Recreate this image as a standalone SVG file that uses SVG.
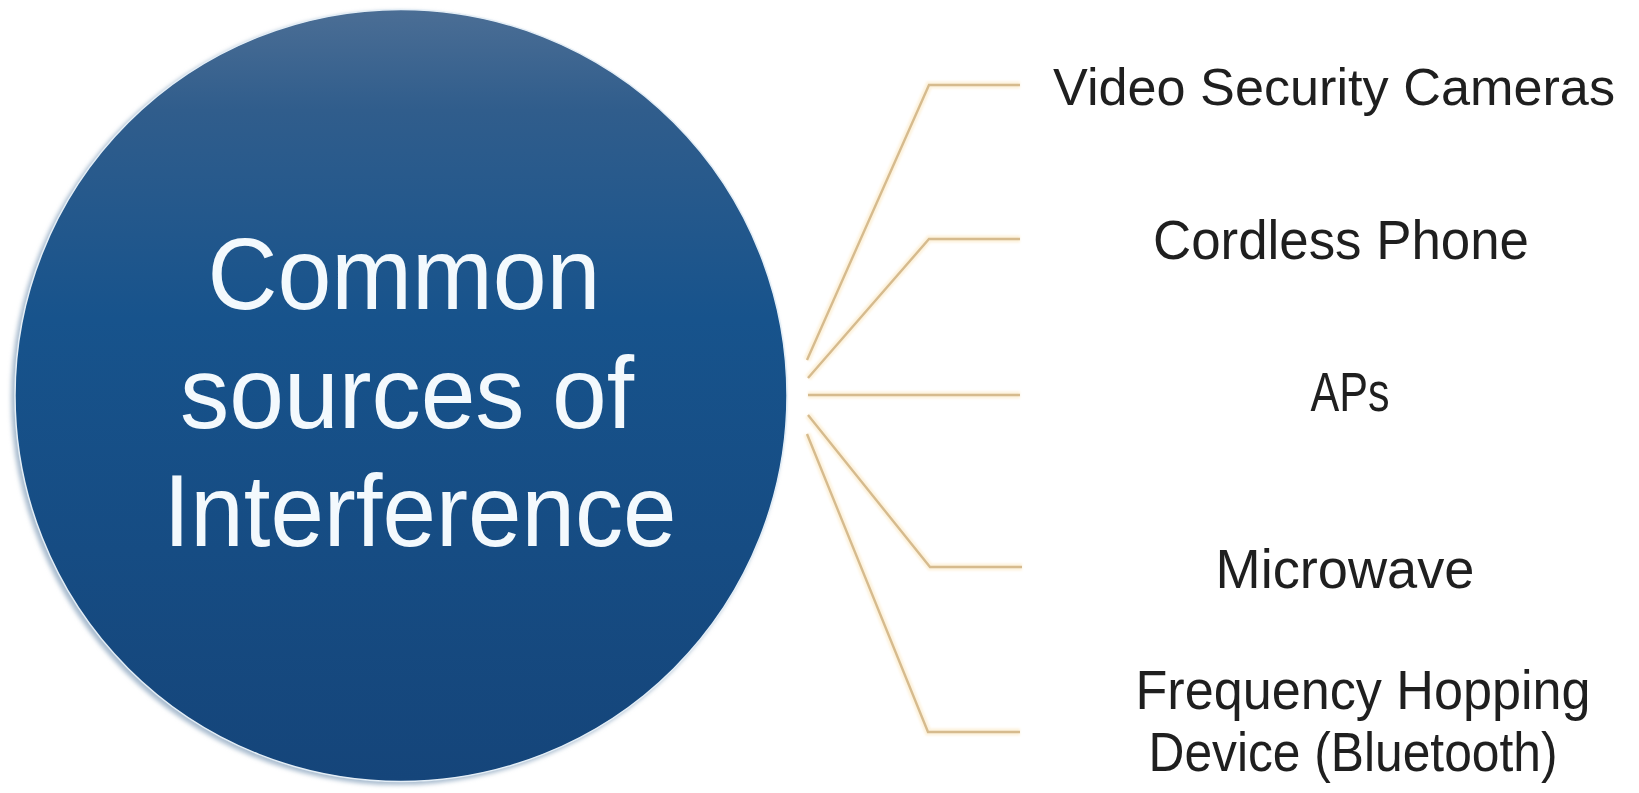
<svg xmlns="http://www.w3.org/2000/svg" width="1639" height="793" viewBox="0 0 1639 793">
  <defs>
    <linearGradient id="discFill" x1="0" y1="0" x2="0" y2="1">
      <stop offset="0" stop-color="#4b6e95"/>
      <stop offset="0.13" stop-color="#305d8c"/>
      <stop offset="0.4" stop-color="#17538c"/>
      <stop offset="1" stop-color="#15457a"/>
    </linearGradient>
    <filter id="soft" x="-5%" y="-5%" width="110%" height="110%">
      <feGaussianBlur stdDeviation="1.2"/>
    </filter>
    <filter id="glow" x="-10%" y="-10%" width="120%" height="120%">
      <feGaussianBlur stdDeviation="2"/>
    </filter>
  </defs>
  <style>
    .hub-text { font-family: "Liberation Sans", Arial, sans-serif; font-size: 102px; fill: #f3f9fd; text-anchor: middle; }
    .leaf-text { font-family: "Liberation Sans", Arial, sans-serif; font-size: 55px; fill: #1f1f1f; text-anchor: middle; }
    .leaf-text.wide { font-size: 52px; }
    .link { fill: none; stroke: #d6bb8e; stroke-width: 2.4; stroke-linejoin: miter; }
    .link-glow { fill: none; stroke: #fbe9c4; stroke-width: 7; opacity: 0.6; }
  </style>

  <rect width="1639" height="793" fill="#ffffff"/>

  <!-- central disc with a soft rim shadow -->
  <g id="hub">
    <circle cx="398" cy="398" r="387" fill="#a9bccf" filter="url(#glow)"/>
    <circle cx="401" cy="395.5" r="386" fill="url(#discFill)" stroke="#e4eef6" stroke-width="1.5"/>
    <text class="hub-text" x="404" y="309" textLength="393" lengthAdjust="spacingAndGlyphs">Common</text>
    <text class="hub-text" x="407" y="428" textLength="454" lengthAdjust="spacingAndGlyphs">sources of</text>
    <text class="hub-text" x="420" y="546" textLength="513" lengthAdjust="spacingAndGlyphs">Interference</text>
  </g>

  <!-- elbow connectors from the disc to each item -->
  <g id="connectors">
    <g filter="url(#soft)">
      <path class="link-glow" d="M807 360 L929 85 L1020 85"/>
      <path class="link-glow" d="M808 378 L929 239 L1020 239"/>
      <path class="link-glow" d="M808 395 L1020 395"/>
      <path class="link-glow" d="M808 415 L930 567 L1022 567"/>
      <path class="link-glow" d="M807 434 L928 732 L1020 732"/>
    </g>
    <path class="link" d="M807 360 L929 85 L1020 85"/>
    <path class="link" d="M808 378 L929 239 L1020 239"/>
    <path class="link" d="M808 395 L1020 395"/>
    <path class="link" d="M808 415 L930 567 L1022 567"/>
    <path class="link" d="M807 434 L928 732 L1020 732"/>
  </g>

  <g id="item-cameras">
    <text class="leaf-text wide" x="1334" y="105" textLength="562" lengthAdjust="spacingAndGlyphs">Video Security Cameras</text>
  </g>
  <g id="item-cordless">
    <text class="leaf-text" x="1341" y="259" textLength="376" lengthAdjust="spacingAndGlyphs">Cordless Phone</text>
  </g>
  <g id="item-aps">
    <text class="leaf-text" x="1350" y="411" textLength="79" lengthAdjust="spacingAndGlyphs">APs</text>
  </g>
  <g id="item-microwave">
    <text class="leaf-text" x="1345" y="588" textLength="259" lengthAdjust="spacingAndGlyphs">Microwave</text>
  </g>
  <g id="item-hopping">
    <text class="leaf-text" x="1363" y="709" textLength="455" lengthAdjust="spacingAndGlyphs">Frequency Hopping</text>
    <text class="leaf-text" x="1353" y="771" textLength="409" lengthAdjust="spacingAndGlyphs">Device (Bluetooth)</text>
  </g>
</svg>
